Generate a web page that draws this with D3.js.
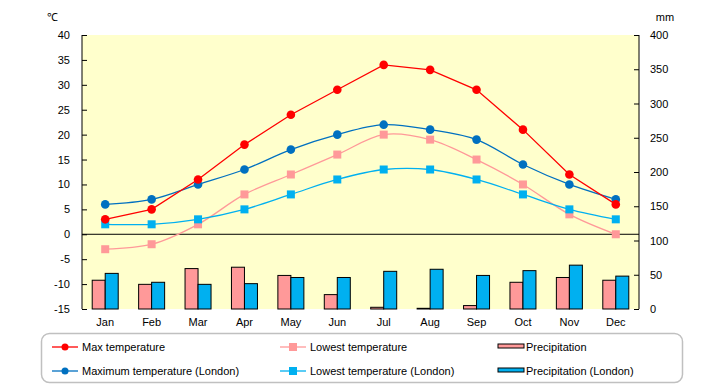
<!DOCTYPE html>
<html>
<head>
<meta charset="utf-8">
<script src="https://cdn.jsdelivr.net/npm/d3@7"></script>
<style>
    body { margin: 0; background: #fff; }
    text { font-family: 'Liberation Sans', Arial, sans-serif; font-size: 11px; fill: #000; }
</style>
</head>
<body>
<div id="chart"></div>
<script>
    var months = ["Jan", "Feb", "Mar", "Apr", "May", "Jun", "Jul", "Aug", "Sep", "Oct", "Nov", "Dec"];
    var maxTemp = [3, 5, 11, 18, 24, 29, 34, 33, 29, 21, 12, 6];
    var lowTemp = [-3, -2, 2, 8, 12, 16, 20, 19, 15, 10, 4, 0];
    var maxLondon = [6, 7, 10, 13, 17, 20, 22, 21, 19, 14, 10, 7];
    var lowLondon = [2, 2, 3, 5, 8, 11, 13, 13, 11, 8, 5, 3];
    var precip = [42, 36, 59, 61, 49, 21, 2.5, 1, 5, 39, 46, 42];
    var precipLondon = [52, 39, 36, 37, 46, 46, 55, 58, 49, 56, 64, 48];
    var tempTicks = [-15, -10, -5, 0, 5, 10, 15, 20, 25, 30, 35, 40];
    var mmTicks = [0, 50, 100, 150, 200, 250, 300, 350, 400];

    var W = 720, H = 385;
    var pL = 82, pR = 639, pT = 35, pB = 309;

    var svg = d3.select("#chart").append("svg")
        .attr("width", W)
        .attr("height", H);

    var x = d3.scaleBand().domain(months).range([pL, pR]);
    var y = d3.scaleLinear().domain([-15, 40]).range([pB, pT]);
    var y2 = d3.scaleLinear().domain([0, 400]).range([pB, pT]);

    // plot background
    svg.append("rect")
        .attr("x", pL).attr("y", pT)
        .attr("width", pR - pL).attr("height", pB - pT)
        .attr("fill", "#ffffcc");

    // bars
    var bw = 13;
    var cx = function (i) { return x(months[i]) + x.bandwidth() / 2; };
    svg.selectAll(".bar1").data(precip).enter().append("rect")
        .attr("x", function (d, i) { return cx(i) - bw; })
        .attr("y", function (d) { return y2(d); })
        .attr("width", bw)
        .attr("height", function (d) { return pB - y2(d); })
        .attr("fill", "#ff9999").attr("stroke", "#000").attr("stroke-width", 1);
    svg.selectAll(".bar2").data(precipLondon).enter().append("rect")
        .attr("x", function (d, i) { return cx(i); })
        .attr("y", function (d) { return y2(d); })
        .attr("width", bw)
        .attr("height", function (d) { return pB - y2(d); })
        .attr("fill", "#00b0f0").attr("stroke", "#000").attr("stroke-width", 1);

    // zero line
    svg.append("line")
        .attr("x1", pL).attr("x2", pR)
        .attr("y1", y(0)).attr("y2", y(0))
        .attr("stroke", "#000");

    // axes
    var yAxis = d3.axisRight(y).tickValues(tempTicks).tickSize(5).tickFormat(function (d) { return ""; });
    svg.append("g").attr("transform", "translate(" + pL + ",0)").call(yAxis)
        .call(function (g) { g.select(".domain").attr("d", "M0," + pT + "V" + pB); });
    var y2Axis = d3.axisLeft(y2).tickValues(mmTicks).tickSize(5).tickFormat(function (d) { return ""; });
    svg.append("g").attr("transform", "translate(" + pR + ",0)").call(y2Axis)
        .call(function (g) { g.select(".domain").attr("d", "M0," + pT + "V" + pB); });

    svg.selectAll(".tl").data(tempTicks).enter().append("text")
        .attr("x", 70).attr("y", function (d) { return y(d) + 4; })
        .attr("text-anchor", "end")
        .text(function (d) { return d; });
    svg.selectAll(".tr").data(mmTicks).enter().append("text")
        .attr("x", 650).attr("y", function (d) { return y2(d) + 4; })
        .text(function (d) { return d; });
    svg.selectAll(".mo").data(months).enter().append("text")
        .attr("x", function (d) { return x(d) + x.bandwidth() / 2; })
        .attr("y", 326)
        .attr("text-anchor", "middle")
        .text(function (d) { return d; });

    svg.append("text").attr("x", 52).attr("y", 21).attr("text-anchor", "middle").text("℃");
    svg.append("text").attr("x", 665).attr("y", 21).attr("text-anchor", "middle").text("mm");

    // lines
    function drawLine(data, color, curve, shape) {
        var line = d3.line()
            .x(function (d, i) { return cx(i); })
            .y(function (d) { return y(d); })
            .curve(curve);
        svg.append("path").datum(data)
            .attr("d", line)
            .attr("fill", "none").attr("stroke", color).attr("stroke-width", 1.3);
        if (shape == "circle") {
            svg.selectAll(null).data(data).enter().append("circle")
                .attr("cx", function (d, i) { return cx(i); })
                .attr("cy", function (d) { return y(d); })
                .attr("r", 4.3).attr("fill", color);
        } else {
            svg.selectAll(null).data(data).enter().append("rect")
                .attr("x", function (d, i) { return cx(i) - 4; })
                .attr("y", function (d) { return y(d) - 4; })
                .attr("width", 8).attr("height", 8).attr("fill", color);
        }
    }
    drawLine(lowTemp, "#ff9999", d3.curveCatmullRom, "square");
    drawLine(lowLondon, "#00b0f0", d3.curveCatmullRom, "square");
    drawLine(maxLondon, "#0070c0", d3.curveCatmullRom, "circle");
    drawLine(maxTemp, "#ff0000", d3.curveLinear, "circle");

    // legend
    svg.append("rect")
        .attr("x", 41.5).attr("y", 333.5)
        .attr("width", 641).attr("height", 49)
        .attr("rx", 8).attr("ry", 8)
        .attr("fill", "#fff").attr("stroke", "#c0c0c0").attr("stroke-width", 1.5);

    var legend = [
        { name: "Max temperature", color: "#ff0000", type: "circle", lx: 52, ly: 347 },
        { name: "Maximum temperature (London)", color: "#0070c0", type: "circle", lx: 52, ly: 371 },
        { name: "Lowest temperature", color: "#ff9999", type: "square", lx: 280, ly: 347 },
        { name: "Lowest temperature (London)", color: "#00b0f0", type: "square", lx: 280, ly: 371 },
        { name: "Precipitation", color: "#ff9999", type: "bar", lx: 498, ly: 347 },
        { name: "Precipitation (London)", color: "#00b0f0", type: "bar", lx: 498, ly: 371 }
    ];
    legend.forEach(function (d) {
        if (d.type == "bar") {
            svg.append("rect")
                .attr("x", d.lx).attr("y", d.ly - 3)
                .attr("width", 26).attr("height", 4)
                .attr("fill", d.color).attr("stroke", "#000").attr("stroke-width", 1);
            svg.append("text").attr("x", d.lx + 28).attr("y", d.ly + 4).text(d.name);
            return;
        }
        svg.append("line")
            .attr("x1", d.lx).attr("x2", d.lx + 26)
            .attr("y1", d.ly).attr("y2", d.ly)
            .attr("stroke", d.color).attr("stroke-width", 1.3);
        if (d.type == "circle") {
            svg.append("circle").attr("cx", d.lx + 13).attr("cy", d.ly).attr("r", 3.5).attr("fill", d.color);
        } else {
            svg.append("rect").attr("x", d.lx + 9).attr("y", d.ly - 4).attr("width", 8).attr("height", 8).attr("fill", d.color);
        }
        svg.append("text").attr("x", d.lx + 30).attr("y", d.ly + 4).text(d.name);
    });
</script>
</body>
</html>
